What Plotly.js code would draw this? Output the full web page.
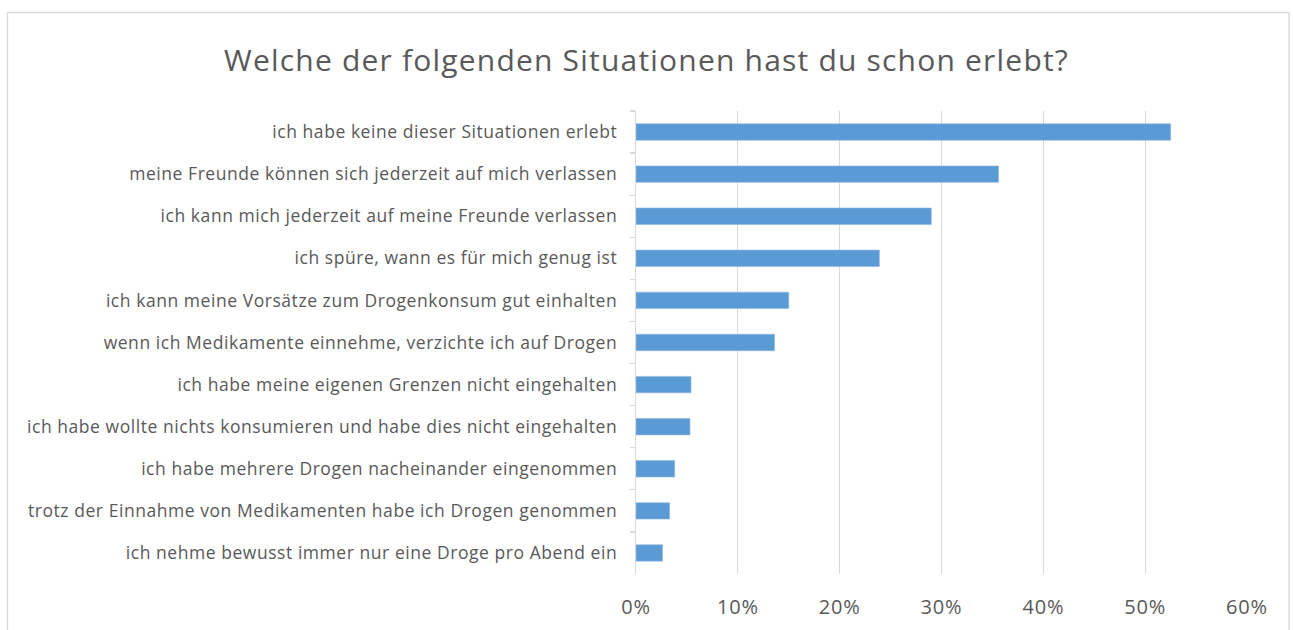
<!DOCTYPE html>
<html>
<head>
<meta charset="utf-8">
<script src="https://cdn.plot.ly/plotly-3.0.1.min.js"></script>
<style>
html,body{margin:0;padding:0;background:#fff;}
#chart{width:1293px;height:630px;}
#chart .ytick text{letter-spacing:0.55px;}
#chart .gtitle{letter-spacing:1.2px;}
#chart .xtick text{letter-spacing:0.8px;}
</style>
</head>
<body>
<div id="chart"></div>
<script>
const categories = [
  "ich habe keine dieser Situationen erlebt",
  "meine Freunde können sich jederzeit auf mich verlassen",
  "ich kann mich jederzeit auf meine Freunde verlassen",
  "ich spüre, wann es für mich genug ist",
  "ich kann meine Vorsätze zum Drogenkonsum gut einhalten",
  "wenn ich Medikamente einnehme, verzichte ich auf Drogen",
  "ich habe meine eigenen Grenzen nicht eingehalten",
  "ich habe wollte nichts konsumieren und habe dies nicht eingehalten",
  "ich habe mehrere Drogen nacheinander eingenommen",
  "trotz der Einnahme von Medikamenten habe ich Drogen genommen",
  "ich nehme bewusst immer nur eine Droge pro Abend ein"
];
const values = [0.525, 0.356, 0.290, 0.239, 0.150, 0.136, 0.054, 0.053, 0.038, 0.033, 0.026];
const xTickVals = [0, 0.1, 0.2, 0.3, 0.4, 0.5, 0.6];
const xTickText = ["0%", "10%", "20%", "30%", "40%", "50%", "60%"];

const W = 1293, H = 630;
const m = {l: 636, r: 46, t: 111, b: 56};
const pw = W - m.l - m.r, ph = H - m.t - m.b;
const px = x => (x - m.l) / pw;
const py = y => 1 - (y - m.t) / ph;

const font = "'Open Sans', sans-serif";

Plotly.newPlot('chart', [{
  type: 'bar',
  orientation: 'h',
  y: categories,
  x: values,
  marker: {color: '#5b9bd5', line: {color: '#8db6e2', width: 0.6}},
  hoverinfo: 'x+y'
}], {
  width: W, height: H,
  margin: m,
  paper_bgcolor: '#fff',
  plot_bgcolor: '#fff',
  showlegend: false,
  bargap: 0.61,
  font: {family: font, color: '#595959', size: 17.5},
  title: {text: 'Welche der folgenden Situationen hast du schon erlebt?', font: {family: font, size: 30, color: '#595959'}, x: 0.5, xref: 'container', xanchor: 'center', y: 1 - 60 / H, yanchor: 'middle'},
  xaxis: {
    range: [0, 0.6],
    tickvals: xTickVals,
    ticktext: xTickText,
    showgrid: true,
    gridcolor: '#d9d9d9',
    gridwidth: 1.3,
    zeroline: false,
    showline: false,
    ticks: '',
    ticklabelstandoff: 19,
    tickfont: {family: font, size: 20, color: '#595959'},
    fixedrange: true
  },
  yaxis: {
    type: 'category',
    autorange: 'reversed',
    showline: true,
    linecolor: '#d9d9d9',
    linewidth: 1.3,
    ticks: 'outside',
    tickson: 'boundaries',
    ticklen: 5,
    tickcolor: '#d9d9d9',
    tickwidth: 1.3,
    ticklabelstandoff: 14,
    showgrid: false,
    tickfont: {family: font, size: 17.5, color: '#595959'},
    fixedrange: true
  },
  shapes: [{
    type: 'rect', xref: 'paper', yref: 'paper',
    x0: px(7.5), x1: px(1289), y0: py(12.5), y1: py(640),
    line: {color: '#d9d9d9', width: 1.3}, fillcolor: 'rgba(0,0,0,0)', layer: 'below'
  }]
}, {displayModeBar: false, staticPlot: true});
</script>
</body>
</html>
